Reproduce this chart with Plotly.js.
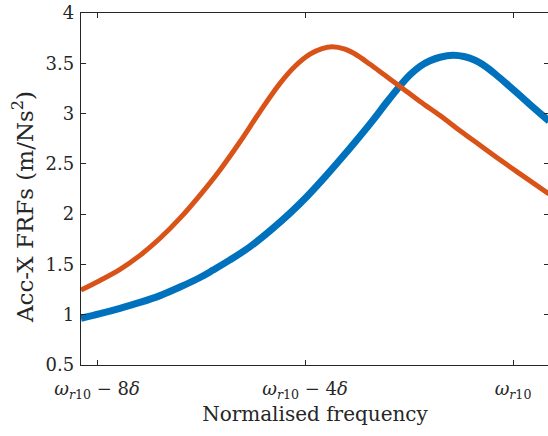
<!DOCTYPE html>
<html>
<head>
<meta charset="utf-8">
<script src="https://cdn.plot.ly/plotly-3.0.1.min.js"></script>
<style>html,body{margin:0;padding:0;overflow:hidden;background:#fff;}</style>
</head>
<body>
<div id="chart" style="width:550px;height:436px;"></div>
<script>
// x in units of delta relative to omega_r10
var blueX = [-8.308, -7.942, -7.558, -7.173, -6.788, -6.404, -6.019, -5.769, -5.442, -5.058, -4.673, -4.288, -3.962, -3.615, -3.327, -3.0, -2.692, -2.462, -2.231, -1.981, -1.788, -1.596, -1.404, -1.154, -0.923, -0.731, -0.577, -0.346, 0, 0.327, 0.692];
var blueY = [0.964, 1.01, 1.063, 1.122, 1.19, 1.275, 1.37, 1.444, 1.545, 1.676, 1.835, 2.01, 2.175, 2.37, 2.54, 2.74, 2.935, 3.09, 3.24, 3.385, 3.47, 3.525, 3.56, 3.58, 3.565, 3.53, 3.485, 3.395, 3.24, 3.09, 2.925];
var orangeX = [-8.308, -7.942, -7.558, -7.173, -6.788, -6.404, -6.019, -5.635, -5.25, -4.865, -4.481, -4.192, -3.904, -3.673, -3.481, -3.231, -3.0, -2.75, -2.462, -2.173, -1.788, -1.404, -1.019, -0.635, -0.25, 0.135, 0.692];
var orangeY = [1.245, 1.34, 1.45, 1.59, 1.76, 1.96, 2.19, 2.44, 2.72, 3.02, 3.30, 3.47, 3.59, 3.645, 3.664, 3.64, 3.58, 3.49, 3.38, 3.27, 3.12, 2.98, 2.83, 2.685, 2.54, 2.40, 2.20];
var xTickVals = [-8, -4, 0];
var xTickText = ['<i>ω</i><sub><i>r</i>10</sub> − 8<i>δ</i>', '<i>ω</i><sub><i>r</i>10</sub> − 4<i>δ</i>', '<i>ω</i><sub><i>r</i>10</sub>'];
var xTitle = 'Normalised frequency';
var yTitle = 'Acc-X FRFs (m/Ns<sup>2</sup>)';

var traces = [
  {x: blueX, y: blueY, type: 'scatter', mode: 'lines', line: {color: '#0072BD', width: 7, shape: 'spline', smoothing: 1}, hoverinfo: 'skip'},
  {x: orangeX, y: orangeY, type: 'scatter', mode: 'lines', line: {color: '#D95319', width: 5, shape: 'spline', smoothing: 1}, hoverinfo: 'skip'}
];
var axisCommon = {
  showline: true, mirror: 'ticks', linecolor: '#262626', linewidth: 1.3,
  ticks: 'inside', ticklen: 5, tickcolor: '#262626', tickwidth: 1,
  showgrid: false, zeroline: false,
  tickfont: {family: 'DejaVu Serif', size: 18, color: '#262626'}
};
var layout = {
  width: 550, height: 436,
  margin: {l: 81, r: 1, t: 13, b: 71},
  paper_bgcolor: '#fff', plot_bgcolor: '#fff',
  showlegend: false,
  font: {family: 'DejaVu Serif', color: '#262626'},
  xaxis: Object.assign({}, axisCommon, {
    range: [-8.308, 0.692], tickvals: xTickVals, ticktext: xTickText,
    ticklabelstandoff: 7,
    title: {text: xTitle, font: {family: 'DejaVu Serif', size: 20, color: '#262626'}, standoff: 6}
  }),
  yaxis: Object.assign({}, axisCommon, {
    range: [0.5, 4], dtick: 0.5, tick0: 0.5,
    ticklabelstandoff: 2
  }),
  annotations: [{
    text: yTitle, textangle: -90, showarrow: false,
    xref: 'paper', yref: 'paper', x: 0, y: 0.5,
    xanchor: 'center', yanchor: 'middle',
    xshift: -58, yshift: -18,
    font: {family: 'DejaVu Serif', size: 23, color: '#262626'}
  }]
};
Plotly.newPlot('chart', traces, layout, {staticPlot: true, displayModeBar: false});
</script>
</body>
</html>
